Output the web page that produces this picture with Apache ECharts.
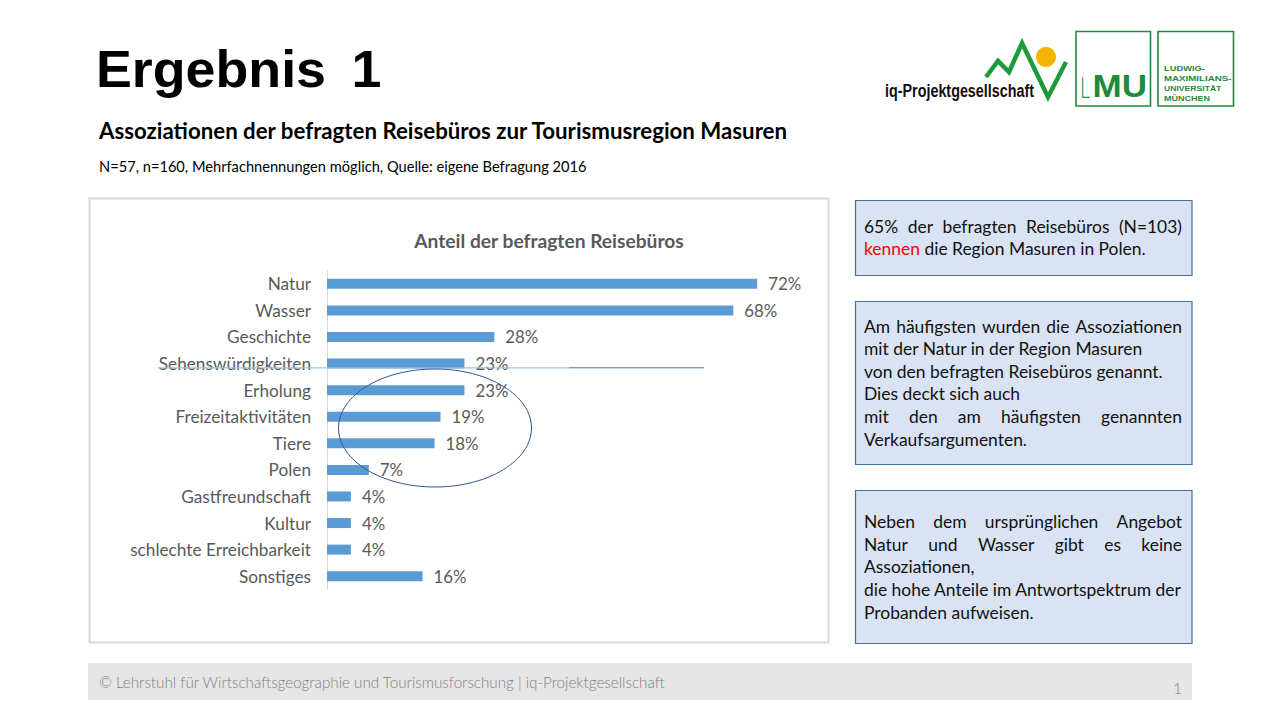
<!DOCTYPE html>
<html>
<head>
<meta charset="utf-8">
<script src="https://cdn.jsdelivr.net/npm/echarts@6/dist/echarts.min.js"></script>
<style>
html,body{margin:0;padding:0;background:#fff;}
#c{width:1280px;height:720px;}
</style>
</head>
<body>
<div id="c"></div>
<script>
// ---------- data ----------
const categories = ['Natur','Wasser','Geschichte','Sehenswürdigkeiten','Erholung','Freizeitaktivitäten','Tiere','Polen','Gastfreundschaft','Kultur','schlechte Erreichbarkeit','Sonstiges'];
const values = [72,68,28,23,23,19,18,7,4,4,4,16];
const chartTitle = 'Anteil der befragten Reisebüros';
const pageTitle = 'Ergebnis';
const pageNumberTitle = '1';
const subTitle = 'Assoziationen der befragten Reisebüros zur Tourismusregion Masuren';
const noteText = 'N=57, n=160, Mehrfachnennungen möglich, Quelle: eigene Befragung 2016';
const box1Lines = ['65% der befragten Reisebüros (N=103)', 'kennen', 'die Region Masuren in Polen.'];
const box2Lines = ['Am häufigsten wurden die Assoziationen','mit der Natur in der Region Masuren','von den befragten Reisebüros genannt.','Dies deckt sich auch','mit den am häufigsten genannten','Verkaufsargumenten.'];
const box2Justify = [true,false,false,false,true,false];
const box3Lines = ['Neben dem ursprünglichen Angebot','Natur und Wasser gibt es keine','Assoziationen,','die hohe Anteile im Antwortspektrum der','Probanden aufweisen.'];
const box3Justify = [true,true,false,false,false];
const footerText = '© Lehrstuhl für Wirtschaftsgeographie und Tourismusforschung | iq-Projektgesellschaft';
const slideNumber = '1';
const logoText = 'iq-Projektgesellschaft';
const lmuLines = ['LUDWIG-','MAXIMILIANS-','UNIVERSITÄT','MÜNCHEN'];

// ---------- helpers ----------
const SANS = 'Lato';
const ARIAL = '"Liberation Sans", Arial';
const mctx = document.createElement('canvas').getContext('2d');
function measure(s, font){ mctx.font = font; return mctx.measureText(s).width; }
function fitSize(s, target, weight, fam){ return 20 * target / measure(s, (weight||'normal') + ' 20px ' + fam); }
const G = [];
function txt(s, x, y, o){
  const font = (o.weight||'normal') + ' ' + o.size + 'px ' + (o.fam||SANS);
  let sx = o.sx || 1;
  if (o.width) sx = o.width / measure(s, font);
  const al = o.align || 'left';
  G.push({type:'text', x:x, y:y, scaleX:sx, z:o.z||20,
    style:{text:s, x:0, y:0, font:font, fill:o.color||'#000',
      align:al, verticalAlign:'middle', textAlign:al, textVerticalAlign:'middle'}});
  return measure(s, font)*sx;
}
function justify(s, x0, x1, y, o){
  const font = (o.weight||'normal') + ' ' + o.size + 'px ' + (o.fam||SANS);
  const words = s.split(' ');
  const ws = words.map(w => measure(w, font));
  const total = ws.reduce((a,b)=>a+b,0);
  const gap = (x1 - x0 - total) / Math.max(1, words.length - 1);
  let x = x0;
  words.forEach((w,i) => { txt(w, x, y, o); x += ws[i] + gap; });
}

// ---------- sizes ----------
const labelSize = fitSize('schlechte Erreichbarkeit', 181, 'normal', SANS);
const valSize = fitSize('72%', 33, 'normal', SANS);
const chartTitleSize = fitSize(chartTitle, 270, 'bold', SANS);
const boxSize = fitSize('die hohe Anteile im Antwortspektrum der', 318, 'normal', SANS);
const subSize = fitSize(subTitle, 690, 'bold', SANS);
const noteSize = fitSize(noteText, 488, 'normal', SANS);
const footSize = fitSize(footerText, 567, '300', SANS);

// ---------- static slide graphics ----------
// chart frame
G.push({type:'rect', z:1, shape:{x:89.5, y:198.5, width:739, height:444}, style:{fill:'none', stroke:'#d9d9d9', lineWidth:2}});
// footer band
G.push({type:'rect', z:1, shape:{x:88, y:663, width:1104, height:37}, style:{fill:'#e7e6e6'}});
txt(footerText, 99, 682, {size:footSize, weight:'300', color:'#7f7f7f'});
txt(slideNumber, 1182, 688, {size:15, weight:'300', color:'#7f7f7f', align:'right'});

// titles
const titleFont = 'bold 52px ' + ARIAL;
const titleSx = 230 / measure(pageTitle, titleFont);
txt(pageTitle, 96, 68.5, {size:52, weight:'bold', fam:ARIAL, sx:titleSx});
txt(pageNumberTitle, 351.5, 68.5, {size:52, weight:'bold', fam:ARIAL, sx:titleSx});
txt(subTitle, 99, 130, {size:subSize, weight:'bold'});
txt(noteText, 99, 166, {size:noteSize});
txt(chartTitle, 549, 240, {size:chartTitleSize, weight:'bold', color:'#595959', align:'center'});

// text boxes
const BX = 855.5, BW = 336.5, TX0 = 864, TX1 = 1182;
const boxStyle = {fill:'#dae3f3', stroke:'#41719c', lineWidth:1.2};
G.push({type:'rect', z:1, shape:{x:BX, y:200.5, width:BW, height:75}, style:boxStyle});
G.push({type:'rect', z:1, shape:{x:BX, y:301.5, width:BW, height:163}, style:boxStyle});
G.push({type:'rect', z:1, shape:{x:BX, y:490.5, width:BW, height:153}, style:boxStyle});
const TC = '#111';
justify(box1Lines[0], TX0, TX1, 226.5, {size:boxSize, color:TC});
const kw = txt(box1Lines[1], TX0, 248.5, {size:boxSize, color:'#ff0000'});
txt(box1Lines[2], TX0 + kw + measure(' ', 'normal ' + boxSize + 'px ' + SANS), 248.5, {size:boxSize, color:TC});
box2Lines.forEach((l,i) => {
  const y = 326 + i*22.6;
  if (box2Justify[i]) justify(l, TX0, TX1, y, {size:boxSize, color:TC});
  else txt(l, TX0, y, {size:boxSize, color:TC});
});
box3Lines.forEach((l,i) => {
  const y = 521.7 + i*22.6;
  if (box3Justify[i]) justify(l, TX0, TX1, y, {size:boxSize, color:TC});
  else txt(l, TX0, y, {size:boxSize, color:TC});
});

// annotations drawn on the chart
G.push({type:'line', z:50, shape:{x1:158, y1:367.8, x2:569, y2:367.8}, style:{stroke:'#9dc3e6', lineWidth:1.3}});
G.push({type:'line', z:50, shape:{x1:569, y1:367.8, x2:704, y2:367.8}, style:{stroke:'#4472c4', lineWidth:1}});
G.push({type:'ellipse', z:50, shape:{cx:435, cy:428, rx:96.5, ry:59}, style:{fill:'none', stroke:'#2f5597', lineWidth:1}});

// logos
G.push({type:'circle', z:5, shape:{cx:1046, cy:57, r:10}, style:{fill:'#f4b400'}});
G.push({type:'polyline', z:6, shape:{points:[[986,77],[998,61],[1009,72],[1022,43],[1048,97],[1066,62]]}, style:{fill:'none', stroke:'#1c9b3b', lineWidth:4.5, lineJoin:'miter'}});
txt(logoText, 885, 91, {size:19, weight:'bold', fam:ARIAL, width:149, color:'#111'});
const LG = '#1f8a3c';
G.push({type:'rect', z:5, shape:{x:1076, y:31.5, width:74.5, height:74.5}, style:{fill:'#fff', stroke:LG, lineWidth:1.6}});
G.push({type:'rect', z:5, shape:{x:1158, y:31.5, width:75.5, height:74.5}, style:{fill:'#fff', stroke:LG, lineWidth:1.6}});
txt('L', 1080, 86, {size:30, weight:'300', fam:SANS, width:10, color:LG});
txt('MU', 1092.5, 86, {size:31, weight:'900', fam:ARIAL, width:54.5, color:LG});
const lmuW = [41, 67.5, 57.5, 46];
lmuLines.forEach((l,i) => txt(l, 1164, 68 + i*10.2, {size:8, weight:'bold', fam:ARIAL, width:lmuW[i], color:LG}));

// ---------- chart ----------
const chart = echarts.init(document.getElementById('c'), null, {renderer:'svg'});
chart.setOption({
  animation: false,
  backgroundColor: '#ffffff',
  grid: {left: 327, top: 270.5, width: 478, height: 319, containLabel: false},
  xAxis: {type:'value', min:0, max:80, show:false},
  yAxis: {
    type:'category', data: categories, inverse: true,
    axisLine: {show:true, lineStyle:{color:'#d9d9d9', width:1}},
    axisTick: {show:false},
    splitLine: {show:false},
    axisLabel: {color:'#595959', fontFamily:SANS, fontSize:labelSize, margin:16}
  },
  series: [{
    type:'bar', data: values, barWidth: 10, z: 2,
    itemStyle: {color:'#5b9bd5'},
    label: {show:true, position:'right', distance:11, formatter:'{c}%', color:'#595959', fontFamily:SANS, fontSize:valSize}
  }],
  graphic: {elements: G}
});
</script>
</body>
</html>
